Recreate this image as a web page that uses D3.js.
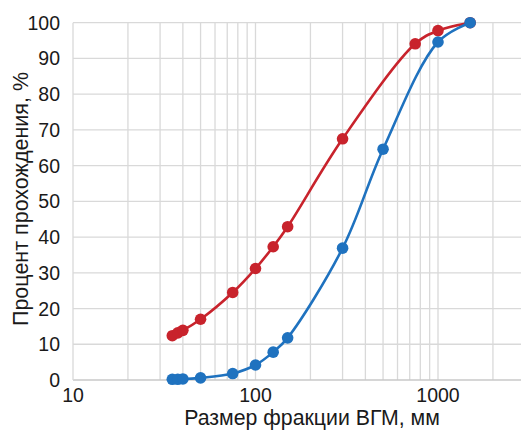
<!DOCTYPE html>
<html><head><meta charset="utf-8">
<script src="https://cdn.jsdelivr.net/npm/d3@7"></script>
<style>body{margin:0;background:#fff}svg{display:block}text{font-family:"Liberation Sans",Arial,sans-serif;fill:#1a1a1a}</style>
</head><body>
<script>
const redSizes = [35, 37.5, 40, 50, 75, 100, 125, 150, 300, 750, 1000, 1500];
const redValues = [12.4, 13.2, 13.9, 17.0, 24.5, 31.2, 37.3, 42.9, 67.5, 94.1, 97.8, 100];
const blueSizes = [35, 37.5, 40, 50, 75, 100, 125, 150, 300, 500, 1000, 1500];
const blueValues = [0.2, 0.2, 0.3, 0.6, 1.8, 4.2, 7.8, 11.8, 36.9, 64.6, 94.6, 100];
const yTicks = [0, 10, 20, 30, 40, 50, 60, 70, 80, 90, 100];
const xTickLabels = [10, 100, 1000];
const xGrid = [20,30,40,50,60,70,80,90,100,200,300,400,500,600,700,800,900,1000,2000];
const xTitle = "Размер фракции ВГМ, мм";
const yTitle = "Процент прохождения, %";

const W = 521, H = 430;
const svg = d3.select("body").append("svg").attr("width", W).attr("height", H);
const x = d3.scaleLog().domain([10, 3000]).range([73, 73 + 182.5 * Math.log10(300)]);
const y = d3.scaleLinear().domain([0, 100]).range([380, 22.7]);

const g = svg.append("g");
g.selectAll(".hg").data(yTicks.filter(d => d > 0)).join("line")
  .attr("x1", 73).attr("x2", W).attr("y1", d => y(d)).attr("y2", d => y(d))
  .attr("stroke", "#d9d9d9").attr("stroke-width", 1.3);
g.selectAll(".vg").data(xGrid).join("line")
  .attr("x1", d => x(d)).attr("x2", d => x(d)).attr("y1", y(0)).attr("y2", y(100))
  .attr("stroke", "#d9d9d9").attr("stroke-width", 1.3);
g.append("line").attr("x1", 73).attr("x2", W).attr("y1", y(0)).attr("y2", y(0)).attr("stroke", "#c8c8c8").attr("stroke-width", 1.5);
g.append("line").attr("x1", 73).attr("x2", 73).attr("y1", y(0)).attr("y2", y(100)).attr("stroke", "#d9d9d9").attr("stroke-width", 1.3);

svg.selectAll(".yt").data(yTicks).join("text")
  .attr("x", 60).attr("y", d => y(d)).attr("dy", "0.36em").attr("text-anchor", "end")
  .attr("font-size", 19.5).text(d => d);
svg.selectAll(".xt").data(xTickLabels).join("text")
  .attr("x", d => x(d)).attr("y", 402).attr("text-anchor", "middle")
  .attr("font-size", 19.5).text(d => d);
svg.append("text").attr("x", 312).attr("y", 425).attr("text-anchor", "middle").attr("font-size", 21.3).text(xTitle);
svg.append("text").attr("transform", "translate(28,199) rotate(-90)").attr("text-anchor", "middle").attr("font-size", 21.5).text(yTitle);

const line = d3.line().x(d => x(d[0])).y(d => y(d[1])).curve(d3.curveCatmullRom.alpha(0.5));
const series = [
  {s: redSizes, v: redValues, c: "#c8232c"},
  {s: blueSizes, v: blueValues, c: "#1f72bf"}
];
series.forEach(se => {
  const pts = se.s.map((s, i) => [s, se.v[i]]);
  svg.append("path").datum(pts).attr("d", line).attr("fill", "none").attr("stroke", se.c).attr("stroke-width", 2.6);
  svg.selectAll(null).data(pts).join("circle").attr("cx", d => x(d[0])).attr("cy", d => y(d[1])).attr("r", 5.8).attr("fill", se.c);
});
</script>
</body></html>
